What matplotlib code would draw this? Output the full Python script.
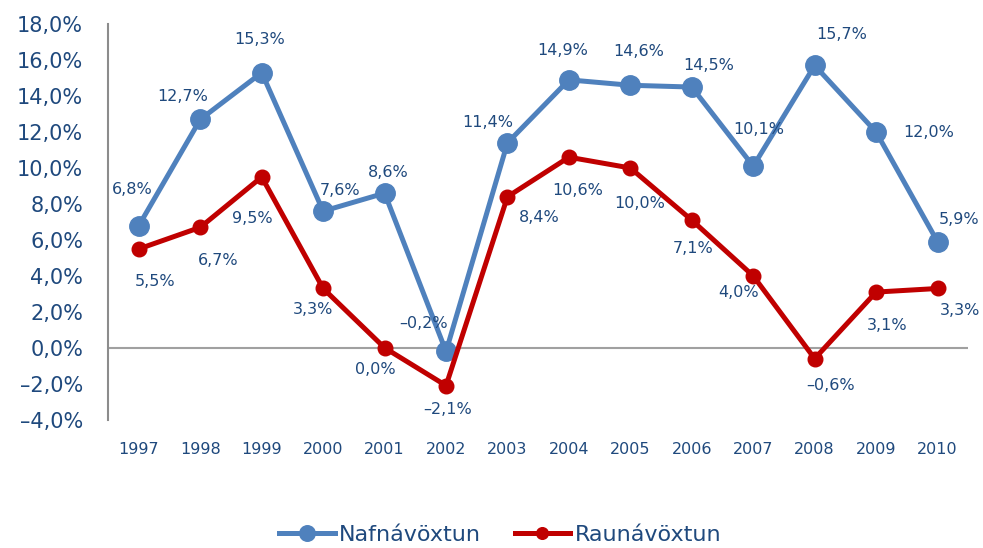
import matplotlib
matplotlib.use("Agg")
import matplotlib.pyplot as plt
import numpy as np

years = ["1997", "1998", "1999", "2000", "2001", "2002", "2003",
         "2004", "2005", "2006", "2007", "2008", "2009", "2010"]
nafn = [6.8, 12.7, 15.3, 7.6, 8.6, -0.2, 11.4, 14.9, 14.6, 14.5, 10.1, 15.7, 12.0, 5.9]
raun = [5.5, 6.7, 9.5, 3.3, 0.0, -2.1, 8.4, 10.6, 10.0, 7.1, 4.0, -0.6, 3.1, 3.3]

# label offsets in pixels (dx, dy)
nafn_off = [(-7, 36), (-18, 23), (-2, 33), (17, 21), (4, 21), (-22, 28), (-20, 20),
            (-6, 29), (8, 34), (17, 22), (6, 37), (27, 31), (53, 0), (22, 22)]
raun_off = [(16, -33), (18, -33), (-9, -42), (-10, -21), (-9, -22), (2, -24), (32, -21),
            (9, -33), (9, -36), (1, -28), (-15, -17), (16, -27), (11, -33), (22, -22)]

blue = "#4F81BD"
red = "#C00000"
txt = "#1F497D"

def fmt(v):
    s = "%.1f%%" % v
    s = s.replace(".", ",").replace("-", "\u2013")
    return s

fig = plt.figure(figsize=(9.83, 5.48), dpi=100)
ax = fig.add_axes([0.110, 0.234, 0.875, 0.722])

x = np.arange(len(years))
ax.axhline(0, color="#A0A0A0", lw=1.5, zorder=1)
ax.plot(x, nafn, color=blue, lw=3.6, marker="o", ms=14, label="Nafnávöxtun", zorder=3)
ax.plot(x, raun, color=red, lw=3.6, marker="o", ms=10.5, label="Raunávöxtun", zorder=4)

for i in range(len(x)):
    ax.annotate(fmt(nafn[i]), (x[i], nafn[i]), xytext=nafn_off[i], textcoords="offset pixels",
                ha="center", va="center", fontsize=11.5, color=txt)
    ax.annotate(fmt(raun[i]), (x[i], raun[i]), xytext=raun_off[i], textcoords="offset pixels",
                ha="center", va="center", fontsize=11.5, color=txt)

ax.set_xlim(-0.5, 13.5)
ax.set_ylim(-4, 18)
ax.set_yticks(np.arange(-4, 19, 2))
ax.set_yticklabels([fmt(v) for v in np.arange(-4, 19, 2)])
ax.set_xticks(x)
ax.set_xticklabels(years)
ax.tick_params(axis="y", length=0, labelsize=15, labelcolor=txt, pad=18)
ax.tick_params(axis="x", length=0, labelsize=11.5, labelcolor=txt, pad=16)
for s in ["top", "right", "bottom"]:
    ax.spines[s].set_visible(False)
ax.spines["left"].set_color("#8C8C8C")
ax.spines["left"].set_linewidth(1.5)

leg = fig.legend(loc="center", bbox_to_anchor=(0.509, 0.024), ncol=2, frameon=False,
                 fontsize=16, handlelength=2.5, columnspacing=1.5, handletextpad=0.2,
                 markerscale=0.8)
for t in leg.get_texts():
    t.set_color(txt)

fig.savefig("out.png", dpi=100)
